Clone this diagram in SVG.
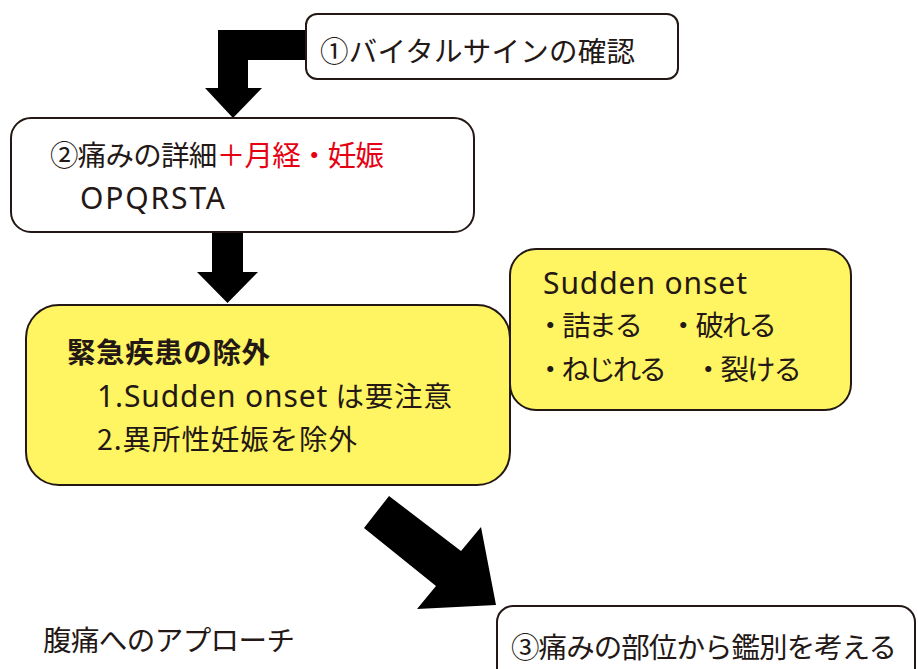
<svg xmlns="http://www.w3.org/2000/svg" width="918" height="669" viewBox="0 0 918 669">
<style>
.box{fill:#ffffff;stroke:#231815;stroke-width:2}
.ybox{fill:#fff462;stroke:#231815;stroke-width:2}
.t{font-family:"Noto Sans CJK JP","Noto Sans",sans-serif;font-size:28.5px;fill:#231815}
.lat{font-family:"Noto Sans","Noto Sans CJK JP",sans-serif;font-size:30px}
.b{font-weight:bold}
.red{fill:#e60012}
.arrow{fill:#000000}
</style>
<rect width="918" height="669" fill="#ffffff"/>
<g id="connectors">
<polygon class="arrow" points="306,30 218,30 218,88 205,88 233,118 262,88 248,88 248,60 306,60"/>
<polygon class="arrow" points="212,233 243,233 243,272 258,272 227.5,303 197,272 212,272"/>
<polygon class="arrow" points="389,496 461,551 481,527 496,605 417,609 436,586 364,528"/>
</g>
<g id="node1">
<rect class="box" x="306" y="14" width="372" height="65" rx="11"/>
<text class="t" x="320" y="62" textLength="315">①バイタルサインの確認</text>
</g>
<g id="node2">
<rect class="box" x="11" y="118" width="463" height="114" rx="20"/>
<text class="t" x="50" y="166" textLength="334">②痛みの詳細<tspan class="red">＋月経・妊娠</tspan></text>
<text class="t lat" x="80" y="209" textLength="145">OPQRSTA</text>
</g>
<g id="node3">
<rect class="ybox" x="26" y="305" width="484" height="180" rx="33"/>
<text class="t b" x="67" y="363" textLength="203">緊急疾患の除外</text>
<text class="t" x="97" y="407" textLength="355"><tspan class="lat">1.Sudden onset</tspan> は要注意</text>
<text class="t" x="97" y="450" textLength="260">2.異所性妊娠を除外</text>
</g>
<g id="node4">
<rect class="ybox" x="510" y="249" width="341" height="161" rx="26"/>
<text class="t lat" x="543" y="294" textLength="204">Sudden onset</text>
<text class="t" x="536" y="336" textLength="107">・詰まる</text>
<text class="t" x="669" y="336" textLength="108">・破れる</text>
<text class="t" x="536" y="380" textLength="131">・ねじれる</text>
<text class="t" x="694" y="380" textLength="108">・裂ける</text>
</g>
<g id="node5">
<rect class="box" x="497" y="606" width="418" height="80" rx="16"/>
<text class="t" x="511" y="658" textLength="386">③痛みの部位から鑑別を考える</text>
</g>
<g id="title">
<text class="t" x="43" y="651" textLength="252">腹痛へのアプローチ</text>
</g>
</svg>
